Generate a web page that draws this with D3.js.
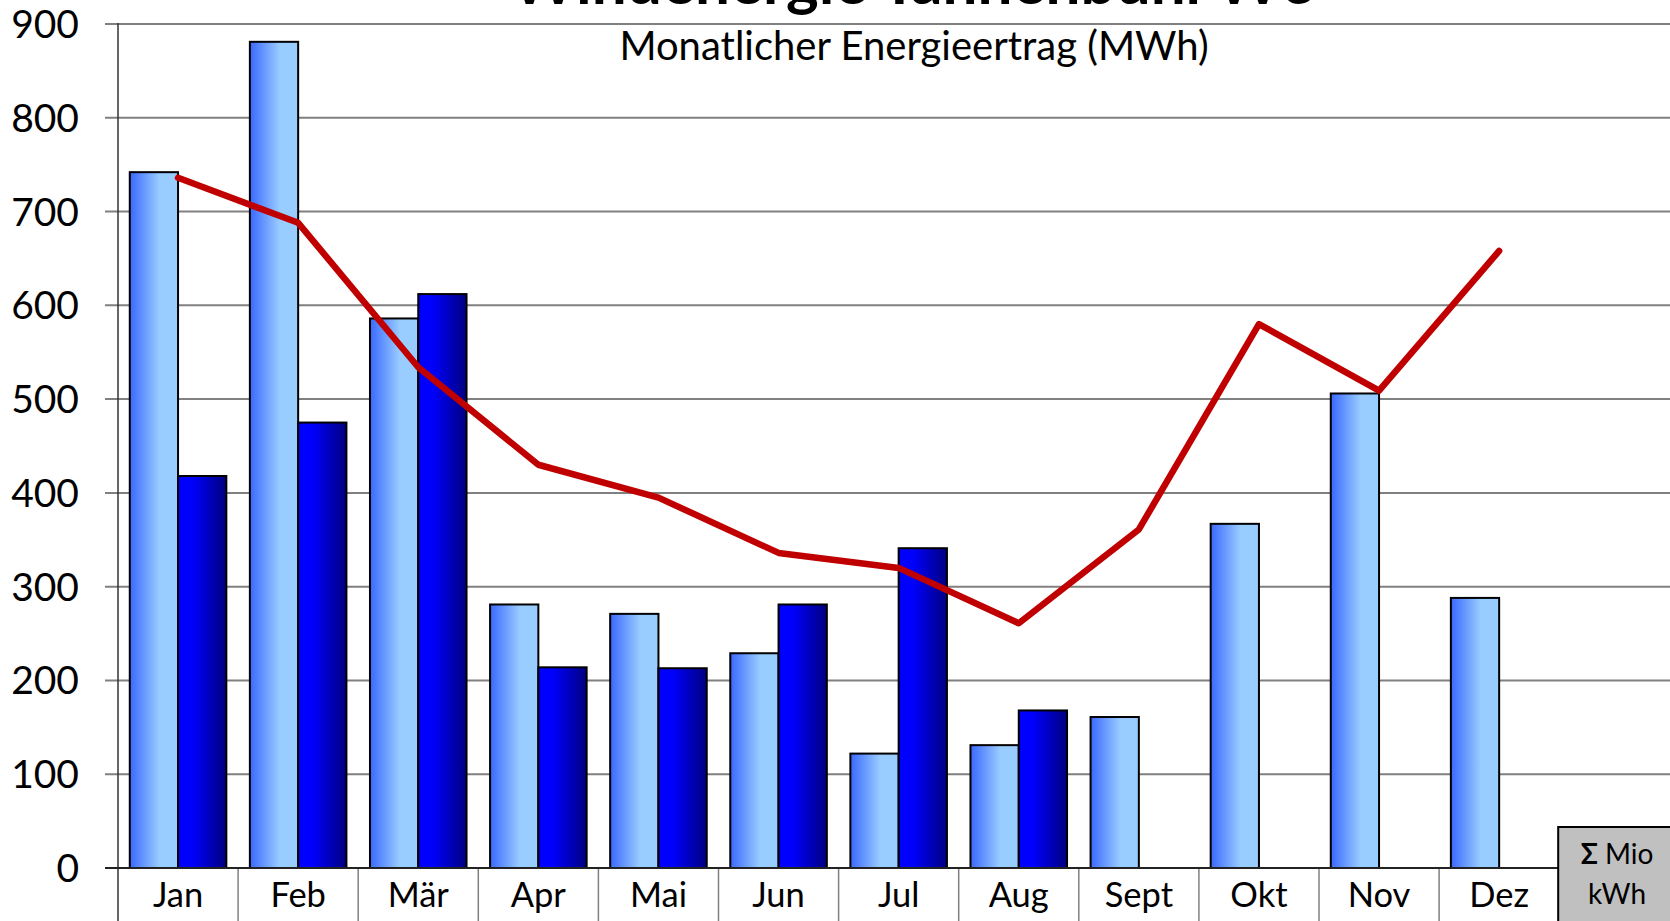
<!DOCTYPE html>
<html>
<head>
<meta charset="utf-8">
<script src="https://cdn.jsdelivr.net/npm/d3@7"></script>
<style>
  html, body { margin: 0; padding: 0; background: #fff; overflow: hidden; }
  svg { display: block; font-family: Lato, "Liberation Sans", sans-serif; }
</style>
</head>
<body>
<svg id="chart" width="1670" height="921"></svg>
<script>
const months = ["Jan", "Feb", "Mär", "Apr", "Mai", "Jun", "Jul", "Aug", "Sept", "Okt", "Nov", "Dez"];
const seriesLight = [742, 881, 586, 281, 271, 229, 122, 131, 161, 367, 506, 288];
const seriesDark = [418, 475, 612, 214, 213, 281, 341, 168, null, null, null, null];
const lineValues = [736, 688, 534, 430, 395, 336, 320, 261, 361, 580, 509, 658];
const yTickValues = [0, 100, 200, 300, 400, 500, 600, 700, 800, 900];
const titleText = "Windenergie Tannenbühl W6";
const subtitleText = "Monatlicher Energieertrag (MWh)";
const sumLabel = ["Mio", "kWh"];

const svg = d3.select("#chart");
const W = 1670, H = 921;
const plotLeft = 118, plotTop = 24, plotBottom = 868;
const bandW = 120.1;

const x = d3.scaleBand().domain(months).range([plotLeft, plotLeft + bandW * months.length]).paddingInner(0).paddingOuter(0);
const xs = d3.scaleBand().domain(["light", "dark"]).range([0.098 * bandW, 0.902 * bandW]).padding(0);
const y = d3.scaleLinear().domain([0, 900]).range([plotBottom, plotTop]);

const defs = svg.append("defs");
const gL = defs.append("linearGradient").attr("id", "gLight").attr("x1", "0").attr("x2", "1").attr("y1", "0").attr("y2", "0");
gL.append("stop").attr("offset", "0").attr("stop-color", "#3a68ff");
gL.append("stop").attr("offset", "0.62").attr("stop-color", "#99ccff");
gL.append("stop").attr("offset", "1").attr("stop-color", "#99ccff");
const gD = defs.append("linearGradient").attr("id", "gDark").attr("x1", "0").attr("x2", "1").attr("y1", "0").attr("y2", "0");
gD.append("stop").attr("offset", "0").attr("stop-color", "#0000ff");
gD.append("stop").attr("offset", "0.28").attr("stop-color", "#0000ff");
gD.append("stop").attr("offset", "1").attr("stop-color", "#000080");

// gridlines
svg.append("g").selectAll("line").data(yTickValues.filter(v => v > 0)).join("line")
  .attr("x1", plotLeft - 13).attr("x2", W + 10)
  .attr("y1", d => y(d)).attr("y2", d => y(d))
  .attr("stroke", "#808080").attr("stroke-width", 2);

// y labels
svg.append("g").selectAll("text").data(yTickValues).join("text")
  .attr("x", 79).attr("y", d => y(d)).attr("dy", "0.36em")
  .attr("text-anchor", "end").attr("font-size", 39).attr("fill", "#000")
  .text(d => d);

// category separators below axis
const boundaries = months.map(m => x(m)).concat([x(months[months.length - 1]) + bandW]);
svg.append("g").selectAll("line").data(boundaries.slice(1)).join("line")
  .attr("x1", d => d).attr("x2", d => d).attr("y1", plotBottom).attr("y2", H + 5)
  .attr("stroke", "#808080").attr("stroke-width", 1.5);

// bars
const barG = svg.append("g");
months.forEach((m, i) => {
  const parts = [["light", seriesLight[i], "url(#gLight)"], ["dark", seriesDark[i], "url(#gDark)"]];
  parts.forEach(([k, v, fill]) => {
    if (v == null) return;
    barG.append("rect")
      .attr("x", x(m) + xs(k)).attr("width", xs.bandwidth())
      .attr("y", y(v)).attr("height", y(0) - y(v))
      .attr("fill", fill).attr("stroke", "#000").attr("stroke-width", 2);
  });
});

// y axis line
svg.append("line").attr("x1", plotLeft).attr("x2", plotLeft).attr("y1", y(900) - 1).attr("y2", H + 5)
  .attr("stroke", "#333").attr("stroke-width", 1.5);
// x axis line
svg.append("line").attr("x1", plotLeft - 13).attr("x2", boundaries[boundaries.length - 1])
  .attr("y1", y(0)).attr("y2", y(0)).attr("stroke", "#222").attr("stroke-width", 2);

// month labels
svg.append("g").selectAll("text").data(months).join("text")
  .attr("x", d => x(d) + bandW / 2).attr("y", 907)
  .attr("text-anchor", "middle").attr("font-size", 34.5).attr("fill", "#000")
  .text(d => d);

// red line
const line = d3.line().x((d, i) => x(months[i]) + bandW / 2).y(d => y(d));
svg.append("path").datum(lineValues).attr("d", line)
  .attr("fill", "none").attr("stroke", "#c00000").attr("stroke-width", 6.5)
  .attr("stroke-linejoin", "round").attr("stroke-linecap", "round");

// sum box
const bx = boundaries[boundaries.length - 1] - 1;
svg.append("rect").attr("x", bx).attr("y", 827).attr("width", W - bx + 20).attr("height", 120)
  .attr("fill", "#c0c0c0").attr("stroke", "#000").attr("stroke-width", 2);
const t1 = svg.append("text").attr("x", 1617).attr("y", 864).attr("text-anchor", "middle").attr("font-size", 28).attr("fill", "#000");
t1.append("tspan").attr("font-weight", "bold").text("Σ");
t1.append("tspan").text(" " + sumLabel[0]);
svg.append("text").attr("x", 1617).attr("y", 904).attr("text-anchor", "middle").attr("font-size", 28).attr("fill", "#000").text(sumLabel[1]);

// titles
svg.append("text").attr("x", 914).attr("y", 4).attr("text-anchor", "middle")
  .attr("font-size", 62).attr("font-weight", "bold").attr("fill", "#000").text(titleText);
svg.append("text").attr("x", 914).attr("y", 60).attr("text-anchor", "middle")
  .attr("font-size", 40).attr("fill", "#000").text(subtitleText);
</script>
</body>
</html>
